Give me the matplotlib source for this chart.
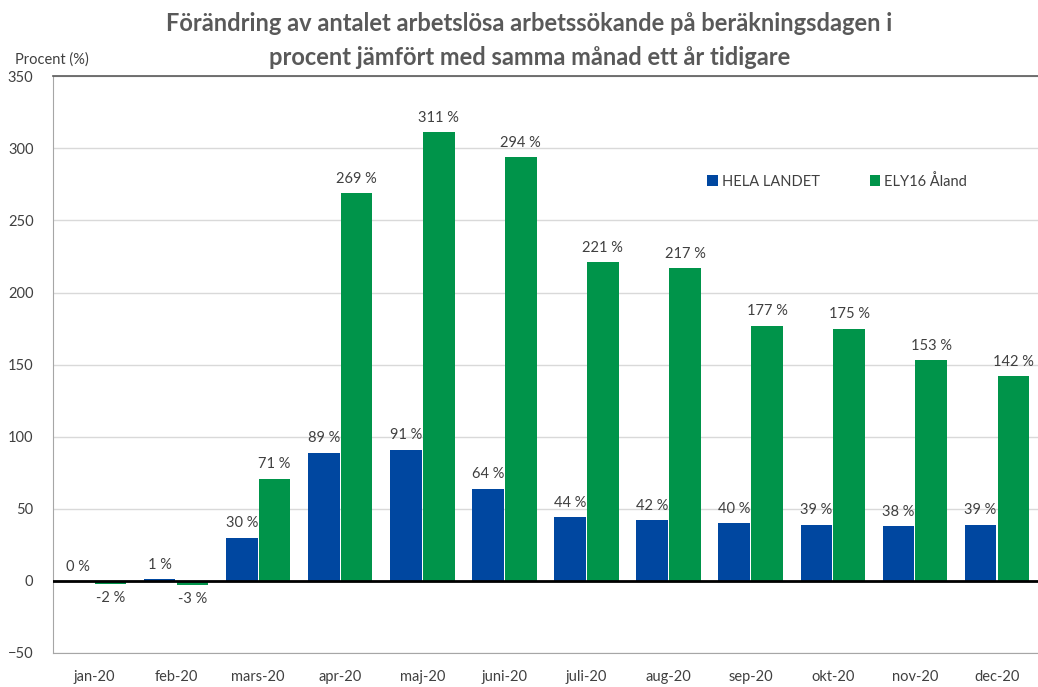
import matplotlib.pyplot as plt
import numpy as np

plt.rcParams['font.family'] = ['Lato', 'DejaVu Sans']

months = ['jan-20', 'feb-20', 'mars-20', 'apr-20', 'maj-20', 'juni-20',
          'juli-20', 'aug-20', 'sep-20', 'okt-20', 'nov-20', 'dec-20']
hela_landet = [0, 1, 30, 89, 91, 64, 44, 42, 40, 39, 38, 39]
aland = [-2, -3, 71, 269, 311, 294, 221, 217, 177, 175, 153, 142]
yticks = [-50, 0, 50, 100, 150, 200, 250, 300, 350]

blue = '#0047A0'
green = '#00944A'
txt = '#404040'

fig = plt.figure(figsize=(10.38, 6.87), dpi=100)
ax = fig.add_axes([0.051, 0.0495, 0.949, 0.8395])

x = np.arange(len(months))
w = 0.385
b1 = ax.bar(x - 0.2, hela_landet, w, color=blue, label='HELA LANDET', zorder=2)
b2 = ax.bar(x + 0.2, aland, w, color=green, label='ELY16 Åland', zorder=2)

for bars, vals in ((b1, hela_landet), (b2, aland)):
    for r, v in zip(bars, vals):
        cx = r.get_x() + r.get_width() / 2
        if v < 0:
            ax.text(cx, v - 5, f'{v} %', ha='center', va='top', fontsize=10.5, color=txt)
        else:
            ax.text(cx, v + 5, f'{v} %', ha='center', va='bottom', fontsize=10.5, color=txt)

ax.set_xlim(-0.5, len(months) - 0.5)
ax.set_ylim(-50, 350)
ax.set_yticks(yticks)
ax.set_xticks(x)
ax.set_xticklabels(months)
ax.tick_params(axis='both', length=0, labelsize=10.5, labelcolor=txt)
ax.tick_params(axis='y', pad=14)
ax.tick_params(axis='x', pad=12)
ax.grid(axis='y', color='#d9d9d9', linewidth=1, zorder=0)
ax.set_axisbelow(True)
ax.axhline(0, color='black', linewidth=2, zorder=3)

ax.spines['right'].set_visible(False)
ax.spines['top'].set_color('#595959')
ax.spines['top'].set_linewidth(1.2)
ax.spines['left'].set_color('#a6a6a6')
ax.spines['bottom'].set_color('#a6a6a6')

leg = ax.legend(loc='center left', bbox_to_anchor=(0.651, 0.818), ncol=2, frameon=False,
                handlelength=0.7, handleheight=0.7, handletextpad=0.3,
                columnspacing=3.4, fontsize=10.5)
for t in leg.get_texts():
    t.set_color(txt)

fig.text(0.51, 0.982, 'Förändring av antalet arbetslösa arbetssökande på beräkningsdagen i\n'
         'procent jämfört med samma månad ett år tidigare',
         ha='center', va='top', fontsize=17, fontweight='bold', color='#595959',
         linespacing=1.55)
fig.text(0.014, 0.913, 'Procent (%)', ha='left', va='center', fontsize=10.5, color=txt)

fig.savefig('out.png', dpi=100)
